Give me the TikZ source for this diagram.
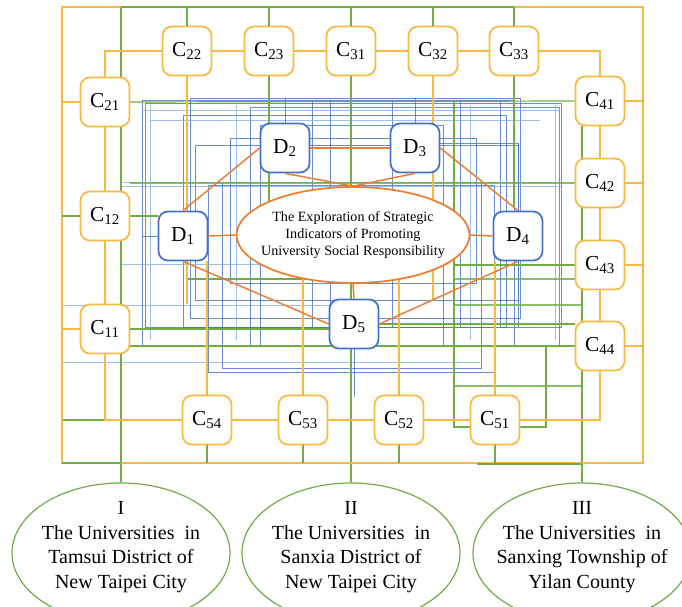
\documentclass[tikz,border=0pt]{standalone}
\usepackage{fontspec}
\setmainfont{Liberation Serif}
\usetikzlibrary{shapes.geometric,backgrounds}
\definecolor{cgold}{RGB}{246,186,66}
\definecolor{dblue}{RGB}{68,114,196}
\definecolor{lblue}{RGB}{130,178,222}
\definecolor{corange}{RGB}{237,125,49}
\definecolor{cgreen}{RGB}{112,173,71}
\tikzset{
  cbox/.style={draw=cgold, line width=1.3pt, rounded corners=7pt, fill=white,
    minimum width=36.75pt, minimum height=36.75pt, inner sep=0pt,
    font=\fontsize{16}{18}\selectfont},
  dbox/.style={cbox, draw=dblue},
  topic/.style={ellipse, draw=corange, line width=1.3pt, fill=white,
    minimum width=174.75pt, minimum height=72pt, inner xsep=-9pt, inner ysep=0pt,
    align=center, font=\fontsize{10.6}{13}\selectfont},
  region/.style={ellipse, draw=cgreen, line width=0.9pt, fill=white,
    minimum width=163.5pt, minimum height=105pt},
  regtext/.style={align=center, font=\fontsize{15}{18.4}\selectfont},
  olink/.style={draw=corange, line width=1.1pt},
  ylink/.style={draw=cgold, line width=1.1pt},
  glink/.style={draw=cgreen, line width=0.9pt},
  bmesh/.style={draw=dblue, line width=0.75pt, opacity=0.8},
  lmesh/.style={draw=lblue, line width=0.75pt, opacity=0.8},
}
\begin{document}
\begin{tikzpicture}[x=0.75pt, y=-0.75pt]
\useasboundingbox (0,0) rectangle (682,607);
\clip (0,0) rectangle (682,607);
% frame sides
\coordinate (fl) at (62,0);
\coordinate (fr) at (643,0);
\coordinate (ft) at (0,7);
\coordinate (fb) at (0,463);

% outer ring of indicators
\node[cbox] (C22) at (187,51) {C\textsubscript{22}};
\node[cbox] (C23) at (269,51) {C\textsubscript{23}};
\node[cbox] (C31) at (351,51) {C\textsubscript{31}};
\node[cbox] (C32) at (433,51) {C\textsubscript{32}};
\node[cbox] (C33) at (514,51) {C\textsubscript{33}};
\node[cbox] (C21) at (105,102) {C\textsubscript{21}};
\node[cbox] (C12) at (105,216) {C\textsubscript{12}};
\node[cbox] (C11) at (105,329) {C\textsubscript{11}};
\node[cbox] (C41) at (600,101) {C\textsubscript{41}};
\node[cbox] (C42) at (600,183) {C\textsubscript{42}};
\node[cbox] (C43) at (600,265) {C\textsubscript{43}};
\node[cbox] (C44) at (600,346) {C\textsubscript{44}};
\node[cbox] (C54) at (207,420) {C\textsubscript{54}};
\node[cbox] (C53) at (303,420) {C\textsubscript{53}};
\node[cbox] (C52) at (399,420) {C\textsubscript{52}};
\node[cbox] (C51) at (495,420) {C\textsubscript{51}};

% dimensions and topic
\node[topic] (topic) at (353,235) {The Exploration of Strategic\\Indicators of Promoting\\University Social Responsibility};
\node[dbox] (D1) at (183,236) {D\textsubscript{1}};
\node[dbox] (D2) at (285,148) {D\textsubscript{2}};
\node[dbox] (D3) at (415,148) {D\textsubscript{3}};
\node[dbox] (D4) at (518,236) {D\textsubscript{4}};
\node[dbox] (D5) at (354,324) {D\textsubscript{5}};

% regions
\node[region] (r1) at (121,553) {};
\node[region] (r2) at (351,553) {};
\node[region] (r3) at (582,553) {};
\node[regtext] at ([yshift=4.5pt]r1.center) {I\\The Universities\ \ in\\Tamsui District of\\New Taipei City};
\node[regtext] at ([yshift=4.5pt]r2.center) {II\\The Universities\ \ in\\Sanxia District of\\New Taipei City};
\node[regtext] at ([yshift=4.5pt]r3.center) {III\\The Universities\ \ in\\Sanxing Township of\\Yilan County};

\begin{pgfonlayer}{background}
% blue mesh
\foreach \xa/\ya/\xb/\yb in {145/103/561/327, 142/100/514/346, 183/115/506/327,
    195/145/518/300, 222/182/481/368, 208/185/494/372, 230/138/476/283,
    250/107/559/346, 260/125/443/346, 190/98/520/318}
  \draw[bmesh] (\xa,\ya) rectangle (\xb,\yb);
\foreach \x in {312,330,392,460,500}
  \draw[bmesh] (\x,100) -- (\x,327);
\foreach \y/\xa/\xb in {182/121/561, 186/121/561, 264/121/330, 305/62/330,
    362/62/480, 120/150/540, 110/142/560}
  \draw[lmesh] (\xa,\y) -- (\xb,\y);
\foreach \x in {150,236,470,555}
  \draw[lmesh] (\x,105) -- (\x,340);
\draw[bmesh] (D1.west) -- ++(-16,0);
\draw[bmesh] (D2.north) -- ++(0,-25);
\draw[bmesh] (D3.north) -- ++(0,-25);
\draw[bmesh] ([yshift=3.75pt]D3.east) -| (D4.north);
\draw[bmesh] (D4.south) -- ++(0,66);
\draw[bmesh] (D5.south) -- ++(0,48);

% green mesh
\draw[glink] (C21.east) -- (C41.west);
\draw[glink] (C12.east) -- (C12.east -| D1.west);
\draw[glink, opacity=0.8] (C42.west) -- (C42.west -| C21.east);
\draw[glink] (C43.west) -- ++(-121,0);
\draw[glink] (D5.east) -- (D5.east -| C44.west);
\draw[glink] (C44.west) -- (C44.west -| C11.east);
\draw[glink] (C11.east) -- (C11.east -| D5.west);
\draw[glink] (C23.south) -- ++(0,130);
\draw[glink] (C33.south) -- ++(0,130);
\draw[glink] (454,100) -- (454,427) -- (471,427);
\foreach \y in {279,305,386}
  \draw[glink, opacity=0.8] (454,\y) -- (582,\y);
\draw[glink] (C51.east |- 0,427) -- (546,427) -- (546,346);
\draw[glink] (187,262) -- (187,279) -- (330,279);
\draw[glink] (62,420) -- (121,420);
\draw[glink] (r1.north |- ft) -- (r1.north);
\draw[glink] (r2.north |- ft) -- (r2.north);
\draw[glink] (r3.north |- C41.south) -- (r3.north);

% gold mesh
\draw[ylink] (C22.south) -- ++(0,228);
\draw[ylink] (C32.south) -- ++(0,224);
\draw[ylink] (C54.north) -- (C54.north |- D1.south);
\draw[ylink] (C53.north) -- ++(0,-117);
\draw[ylink] (C52.north) -- ++(0,-117);
\draw[ylink] (C51.north) -- (C51.north |- D4.south);

% frame
\draw[ylink] (62,7) rectangle (643,463);
\draw[glink] (121,7) -- (514,7);
\draw[glink] (62,463) -- (121,463);
\draw[glink] (477,464) -- (582,464);
\end{pgfonlayer}

% ring links
\draw[ylink] (C21.north) |- (C22.west);
\draw[ylink] (C22) -- (C23) -- (C31) -- (C32) -- (C33);
\draw[ylink] (C33.east) -| (C41.north);
\draw[ylink] (C21) -- (C12) -- (C11);
\draw[ylink] (C41) -- (C42) -- (C43) -- (C44);
\draw[ylink] (C44.south) |- (C51.east);
\draw[ylink] (C51) -- (C52) -- (C53) -- (C54);
\draw[ylink] (C54.west) -| (C11.south);

% links to the frame
\foreach \n in {C21,C11} \draw[ylink] (\n.west) -- (\n.west -| fl);
\draw[glink] (C12.west) -- (C12.west -| fl);
\foreach \n in {C41,C42,C43,C44} \draw[ylink] (\n.east) -- (\n.east -| fr);
\foreach \n in {C22,C23,C31,C32,C33} \draw[glink] (\n.north) -- (\n.north |- ft);
\foreach \n in {C54,C53,C52,C51} \draw[glink] (\n.south) -- (\n.south |- fb);

% dimension links
\draw[olink] (D1.north) -- (D2.west);
\draw[olink] (D2.east) -- (D3.west);
\draw[olink] (D3.east) -- (D4.north);
\draw[olink] (D4.south) -- (D5.east);
\draw[olink] (D5.west) -- (D1.south);
\draw[olink] (D1.east) -- (topic.west);
\draw[olink] (D4.west) -- (topic.east);
\draw[olink] (D5.north) -- (topic.south);
\draw[olink] (D2.south) -- (topic.north);
\draw[olink] (D3.south) -- (topic.north);
\end{tikzpicture}
\end{document}
